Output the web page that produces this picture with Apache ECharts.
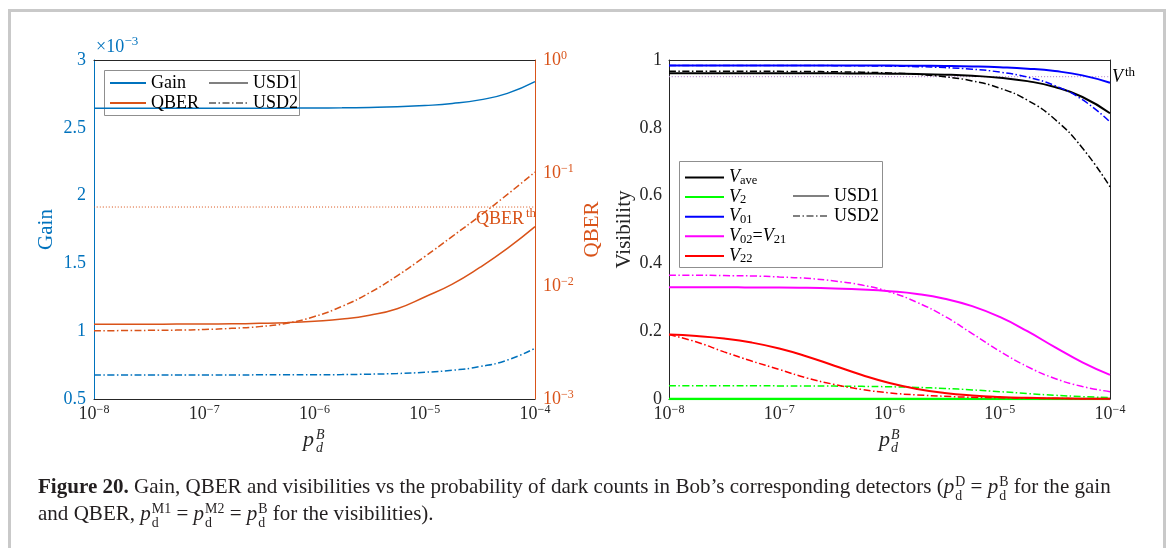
<!DOCTYPE html>
<html>
<head>
<meta charset="utf-8">
<script src="https://cdn.jsdelivr.net/npm/echarts@6/dist/echarts.min.js"></script>
<style>
html,body{margin:0;padding:0;background:#fff;width:1171px;height:548px;overflow:hidden;}
#frame{position:absolute;left:8px;top:9px;width:1152px;height:600px;border:3px solid #c9c9c9;border-bottom:none;}
#chart{position:absolute;left:0;top:0;width:1171px;height:548px;}
#cap{position:absolute;left:38px;top:473px;font-family:"Liberation Serif","DejaVu Serif",serif;font-size:19px;color:#231f20;white-space:nowrap;}
#cap .ln{height:27px;line-height:27px;}
#cap .ss{display:inline-flex;flex-direction:column;font-size:0.66em;line-height:1;vertical-align:7px;margin-left:1px;}
</style>
</head>
<body>
<div id="frame"></div>
<div id="chart"></div>
<div id="cap">
<div class="ln"><span id="l1"><b>Figure 20.</b> Gain, QBER and visibilities vs the probability of dark counts in Bob’s corresponding detectors (<i>p</i><span class="ss"><span>D</span><span>d</span></span> = <i>p</i><span class="ss"><span>B</span><span>d</span></span> for the gain</span></div>
<div class="ln">and QBER, <i>p</i><span class="ss"><span>M1</span><span>d</span></span> = <i>p</i><span class="ss"><span>M2</span><span>d</span></span> = <i>p</i><span class="ss"><span>B</span><span>d</span></span> for the visibilities).</div>
</div>
<script>
// ---------------- data ----------------
const P = [1e-8, 1.78e-8, 3.16e-8, 5.62e-8, 1e-7, 1.78e-7, 3.16e-7, 5.62e-7, 1e-6, 1.78e-6, 3.16e-6, 5.62e-6, 1e-5, 1.78e-5, 3.16e-5, 5.62e-5, 1e-4];
// Gain (x 1e-3)
const GAIN_USD1 = [2.644, 2.644, 2.644, 2.644, 2.644, 2.644, 2.645, 2.645, 2.646, 2.647, 2.650, 2.655, 2.664, 2.679, 2.706, 2.754, 2.840];
const GAIN_USD2 = [0.677, 0.677, 0.677, 0.677, 0.677, 0.677, 0.678, 0.678, 0.679, 0.680, 0.683, 0.688, 0.697, 0.712, 0.739, 0.787, 0.874];
// QBER
const QBER_USD1 = [0.00458, 0.00458, 0.00459, 0.00460, 0.00461, 0.00463, 0.00467, 0.00474, 0.00488, 0.00510, 0.00552, 0.00630, 0.0080, 0.0104, 0.0146, 0.0215, 0.0335];
const QBER_USD2 = [0.00402, 0.00403, 0.00405, 0.00407, 0.00412, 0.00422, 0.00437, 0.00468, 0.00537, 0.00661, 0.00871, 0.0123, 0.0182, 0.0275, 0.0417, 0.0646, 0.102];
const QBER_TH = 0.05;
// Visibilities
const VAVE_USD1 = [0.961, 0.961, 0.961, 0.961, 0.961, 0.9608, 0.9606, 0.9602, 0.9597, 0.9586, 0.9568, 0.9535, 0.9477, 0.9377, 0.9203, 0.8909, 0.843];
const VAVE_USD2 = [0.967, 0.967, 0.967, 0.9669, 0.9665, 0.9661, 0.9653, 0.9640, 0.9618, 0.9577, 0.9506, 0.9383, 0.917, 0.8815, 0.8251, 0.7404, 0.626];
const V2_USD1 = [0, 0, 0, 0, 0, 0, 0, 0, 0, 0, 0, 0, 0, 0, 0, 0, 0];
const V2_USD2 = [0.039, 0.039, 0.039, 0.0388, 0.0387, 0.0385, 0.0380, 0.0373, 0.0361, 0.0342, 0.0311, 0.0269, 0.0217, 0.0161, 0.0110, 0.0071, 0.0043];
const V01_USD1 = [0.984, 0.984, 0.984, 0.984, 0.984, 0.984, 0.984, 0.9838, 0.9835, 0.983, 0.9823, 0.981, 0.9786, 0.9745, 0.9673, 0.9547, 0.933];
const V01_USD2 = [0.984, 0.984, 0.984, 0.984, 0.9838, 0.9836, 0.9834, 0.9829, 0.982, 0.9804, 0.9777, 0.9729, 0.9643, 0.9495, 0.9244, 0.8828, 0.8173];
const V02_USD1 = [0.330, 0.330, 0.330, 0.329, 0.329, 0.328, 0.326, 0.323, 0.318, 0.310, 0.296, 0.274, 0.242, 0.200, 0.153, 0.108, 0.071];
const V02_USD2 = [0.365, 0.365, 0.364, 0.363, 0.360, 0.356, 0.348, 0.336, 0.316, 0.285, 0.244, 0.193, 0.141, 0.0956, 0.0607, 0.0368, 0.0217];
const V22_USD1 = [0.190, 0.1856, 0.1783, 0.1665, 0.149, 0.1256, 0.0982, 0.0708, 0.0472, 0.0297, 0.0179, 0.0105, 0.0060, 0.0034, 0.0020, 0.0011, 0.0006];
const V22_USD2 = [0.190, 0.168, 0.139, 0.112, 0.087, 0.062, 0.043, 0.028, 0.018, 0.012, 0.008, 0.005, 0.0035, 0.0022, 0.0014, 0.0009, 0.0005];
const V_TH = 0.951;
const GAIN_TICKS = [0.5, 3, 0.5];     // min, max, step
const VIS_TICKS = [0, 1, 0.2];
const X_RANGE = [1e-8, 1e-4];
const QBER_RANGE = [1e-3, 1];

// ---------------- style ----------------
const FONT = '"Liberation Serif","DejaVu Serif",serif';
const BLUE = '#0072BD', ORANGE = '#D95319', INK = '#262626';
const DD = [7, 2.5, 1.5, 2.5];
const DOT = [1, 2];
const pair = ys => P.map((p, i) => [p, ys[i]]);
const flat = v => [[X_RANGE[0], v], [X_RANGE[1], v]];

function sup10(v) {
  const e = Math.round(Math.log10(v));
  return '{b|10}{s|' + (e < 0 ? '\u2212' + (-e) : e) + '}';
}
function richLbl(color) {
  return {
    b: { fontFamily: FONT, fontSize: 18, color: color, lineHeight: 20 },
    s: { fontFamily: FONT, fontSize: 12, color: color, lineHeight: 20, padding: [0, 0, 9, 0] }
  };
}
function line(name, data, xi, yi, color, width, type) {
  return {
    name: name, type: 'line', xAxisIndex: xi, yAxisIndex: yi, data: data,
    symbol: 'none', showSymbol: false, smooth: 0.5, silent: true,
    lineStyle: { color: color, width: width, type: type }, itemStyle: { color: color }
  };
}
function logX(grid) {
  return {
    type: 'log', logBase: 10, gridIndex: grid, min: X_RANGE[0], max: X_RANGE[1],
    axisLine: { show: true, onZero: false, lineStyle: { color: INK, width: 1 } },
    axisTick: { show: false }, splitLine: { show: false },
    axisLabel: { formatter: sup10, margin: 5, rich: richLbl(INK) }
  };
}
function frameAxis(grid, pos) {
  return {
    type: 'value', gridIndex: grid, position: pos, min: 0, max: 1,
    axisLine: { show: true, onZero: false, lineStyle: { color: INK, width: 1 } },
    axisTick: { show: false }, axisLabel: { show: false }, splitLine: { show: false }
  };
}

const VLABEL = {
  'Vave': '{i|V}{s|ave}', 'V2': '{i|V}{s|2}', 'V01': '{i|V}{s|01}',
  'V02=V21': '{i|V}{s|02}{n|=}{i|V}{s|21}', 'V22': '{i|V}{s|22}'
};
const legText = {
  fontFamily: FONT, fontSize: 18, lineHeight: 14, color: '#000',
  rich: {
    i: { fontFamily: FONT, fontStyle: 'italic', fontSize: 18, lineHeight: 14, color: '#000' },
    s: { fontFamily: FONT, fontSize: 12.5, lineHeight: 14, color: '#000', padding: [6, 0, 0, 0] },
    n: { fontFamily: FONT, fontSize: 18, lineHeight: 14, color: '#000' }
  }
};
function legend(names, left, top, w, gap, fmt) {
  const o = {
    data: names, left: left, top: top, orient: 'vertical', padding: 0,
    itemWidth: w, itemHeight: 14, itemGap: gap, textStyle: legText,
    itemStyle: { opacity: 0 }, lineStyle: { width: 2 }, selectedMode: false
  };
  if (fmt) o.formatter = n => VLABEL[n] || n;
  return o;
}
function txt(x, y, text, font, fill, align) {
  return { type: 'text', x: x, y: y, z: 5, silent: true,
    style: { text: text, font: font, fill: fill, align: align || 'left', verticalAlign: 'middle' } };
}

const chart = echarts.init(document.getElementById('chart'), null, { renderer: 'canvas' });
chart.setOption({
  animation: false,
  grid: [
    { left: 94, top: 60, width: 441, height: 339, containLabel: false },
    { left: 669, top: 60, width: 441, height: 339, containLabel: false }
  ],
  xAxis: [logX(0), logX(1), frameAxis(0, 'top'), frameAxis(1, 'top')],
  yAxis: [
    { type: 'value', gridIndex: 0, position: 'left', min: GAIN_TICKS[0], max: GAIN_TICKS[1], interval: GAIN_TICKS[2],
      axisLine: { show: true, onZero: false, lineStyle: { color: BLUE, width: 1 } },
      axisTick: { show: false }, splitLine: { show: false },
      axisLabel: { color: BLUE, fontFamily: FONT, fontSize: 18, margin: 8 },
      name: 'Gain', nameLocation: 'middle', nameRotate: 90, nameGap: 37,
      nameTextStyle: { color: BLUE, fontFamily: FONT, fontSize: 21 } },
    { type: 'log', logBase: 10, gridIndex: 0, position: 'right', min: QBER_RANGE[0], max: QBER_RANGE[1],
      axisLine: { show: true, onZero: false, lineStyle: { color: ORANGE, width: 1 } },
      axisTick: { show: false }, splitLine: { show: false },
      axisLabel: { formatter: sup10, margin: 8, rich: richLbl(ORANGE) },
      name: 'QBER', nameLocation: 'middle', nameRotate: 90, nameGap: 47,
      nameTextStyle: { color: ORANGE, fontFamily: FONT, fontSize: 21 } },
    { type: 'value', gridIndex: 1, position: 'left', min: VIS_TICKS[0], max: VIS_TICKS[1], interval: VIS_TICKS[2],
      axisLine: { show: true, onZero: false, lineStyle: { color: INK, width: 1 } },
      axisTick: { show: false }, splitLine: { show: false },
      axisLabel: { color: INK, fontFamily: FONT, fontSize: 18, margin: 7 },
      name: 'Visibility', nameLocation: 'middle', nameRotate: 90, nameGap: 34,
      nameTextStyle: { color: INK, fontFamily: FONT, fontSize: 21 } },
    frameAxis(1, 'right')
  ],
  legend: [
    legend(['Gain', 'QBER'], 109, 74, 36, 2),
    legend(['USD1', 'USD2'], 208, 74, 39, 2),
    legend(['Vave', 'V2', 'V01', 'V02=V21', 'V22'], 684, 168, 39, 0.6, true),
    legend(['USD1', 'USD2'], 792, 187, 36, 2)
  ],
  series: [
    line('QBER th', flat(QBER_TH), 0, 1, ORANGE, 1, DOT),
    line('Gain', pair(GAIN_USD1), 0, 0, BLUE, 1.5, 'solid'),
    line('Gain USD2', pair(GAIN_USD2), 0, 0, BLUE, 1.5, DD),
    line('QBER', pair(QBER_USD1), 0, 1, ORANGE, 1.5, 'solid'),
    line('QBER USD2', pair(QBER_USD2), 0, 1, ORANGE, 1.5, DD),
    line('USD1', [], 0, 0, '#808080', 2, 'solid'),
    line('USD2', [], 0, 0, '#808080', 2, DD),

    line('V th', flat(V_TH), 1, 2, '#BC8FD4', 1.2, DOT),
    line('V2', pair(V2_USD1), 1, 2, '#00FF00', 2.5, 'solid'),
    line('V2 USD2', pair(V2_USD2), 1, 2, '#00FF00', 1.5, DD),
    line('V22', pair(V22_USD1), 1, 2, '#FF0000', 2, 'solid'),
    line('V22 USD2', pair(V22_USD2), 1, 2, '#FF0000', 1.5, DD),
    line('V02=V21', pair(V02_USD1), 1, 2, '#FF00FF', 2, 'solid'),
    line('V02 USD2', pair(V02_USD2), 1, 2, '#FF00FF', 1.5, DD),
    line('Vave', pair(VAVE_USD1), 1, 2, '#000000', 2, 'solid'),
    line('Vave USD2', pair(VAVE_USD2), 1, 2, '#000000', 1.5, DD),
    line('V01', pair(V01_USD1), 1, 2, '#0000FF', 2, 'solid'),
    line('V01 USD2', pair(V01_USD2), 1, 2, '#0000FF', 1.5, DD)
  ],
  graphic: [
    { type: 'rect', z: 3, silent: true, shape: { x: 104.5, y: 70.5, width: 195, height: 45 },
      style: { fill: '#fff', stroke: '#8f8f8f', lineWidth: 1 } },
    { type: 'rect', z: 3, silent: true, shape: { x: 679.5, y: 161.5, width: 203, height: 106 },
      style: { fill: '#fff', stroke: '#8f8f8f', lineWidth: 1 } },
    // x 10^-3 multiplier
    txt(96, 47, '\u00d710', '18px ' + FONT, BLUE),
    txt(124.5, 41.5, '\u22123', '13px ' + FONT, BLUE),
    // thresholds
    txt(524, 219, 'QBER', '18px ' + FONT, ORANGE, 'right'),
    txt(536, 213.5, 'th', '13px ' + FONT, ORANGE, 'right'),
    txt(1112, 77, 'V', 'italic 18px ' + FONT, '#000'),
    txt(1125, 72.5, 'th', '13px ' + FONT, '#000'),
    // x axis names p_d^B
    txt(303, 440.5, 'p', 'italic 22px ' + FONT, INK),
    txt(316, 435, 'B', 'italic 14px ' + FONT, INK),
    txt(316, 448, 'd', 'italic 14px ' + FONT, INK),
    txt(879, 440.5, 'p', 'italic 22px ' + FONT, INK),
    txt(891, 435, 'B', 'italic 14px ' + FONT, INK),
    txt(891, 448, 'd', 'italic 14px ' + FONT, INK)
  ]
});

// fit the caption's first line to the reference width
(function () {
  const cap = document.getElementById('cap');
  const l1 = document.getElementById('l1');
  const w = l1.getBoundingClientRect().width;
  if (w > 0) cap.style.fontSize = (19 * 1074 / w) + 'px';
})();
</script>
</body>
</html>
